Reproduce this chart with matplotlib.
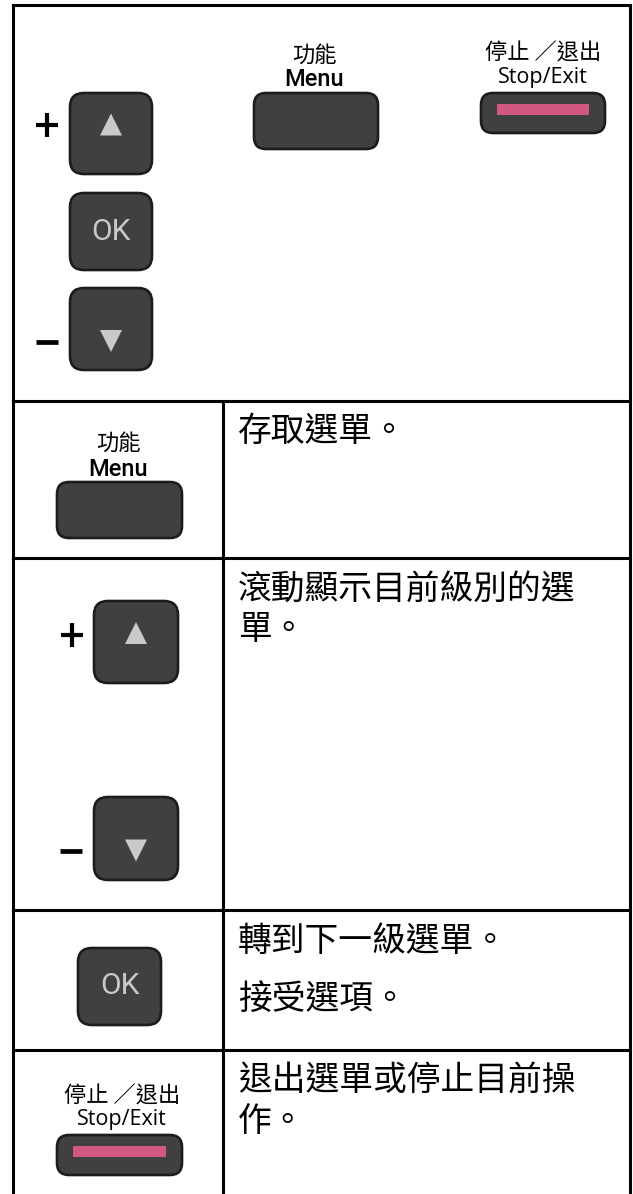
import matplotlib
matplotlib.use("Agg")
import matplotlib.pyplot as plt
from matplotlib.patches import FancyBboxPatch, Polygon

# Тексты таблицы (кнопки панели и их описание)
MENU_LABEL_ZH = "功能"
MENU_LABEL_EN = "Menu"
STOP_LABEL_ZH = "停止 ／退出"
STOP_LABEL_EN = "Stop/Exit"
OK_LABEL = "OK"
ROW_TEXTS = [
    ["存取選單。"],
    ["滾動顯示目前級別的選", "單。"],
    ["轉到下一級選單。", "接受選項。"],
    ["退出選單或停止目前操", "作。"],
]

CJK = ["Noto Sans CJK TC", "DejaVu Sans"]
BTN_FACE = "#404040"
BTN_EDGE = "#1c1c1c"
GLYPH = "#c9c9c9"
PINK = "#d05882"

W, H = 633, 1194
fig = plt.figure(figsize=(W / 100, H / 100), dpi=100)
ax = fig.add_axes([0, 0, 1, 1])
ax.set_xlim(0, W)
ax.set_ylim(H, 0)
ax.axis("off")


def button(x0, y0, x1, y1, r=13):
    ax.add_patch(FancyBboxPatch((x0, y0), x1 - x0, y1 - y0,
                                boxstyle=f"round,pad=0,rounding_size={r}",
                                fc=BTN_FACE, ec=BTN_EDGE, lw=1.9, zorder=2))


def arrow_button(x0, y0, x1, y1, up=True):
    button(x0, y0, x1, y1, r=14)
    cx = (x0 + x1) / 2
    cy = (y0 + y1) / 2 + (-9 if up else 12)
    h = 11
    if up:
        pts = [(cx - 11, cy + h), (cx + 11, cy + h), (cx, cy - h)]
    else:
        pts = [(cx - 11, cy - h), (cx + 11, cy - h), (cx, cy + h)]
    ax.add_patch(Polygon(pts, closed=True, fc=GLYPH, ec="none", zorder=3))


def ok_button(x0, y0, x1, y1):
    button(x0, y0, x1, y1, r=14)
    ax.text((x0 + x1) / 2, (y0 + y1) / 2, OK_LABEL, ha="center", va="center",
            family="Roboto", fontsize=21.5, color=GLYPH, zorder=3)


def menu_button(cx, y_zh, y_en, x0, y0, x1, y1):
    ax.text(cx, y_zh, MENU_LABEL_ZH, ha="center", va="center", family=CJK, fontsize=16)
    ax.text(cx, y_en, MENU_LABEL_EN, ha="center", va="center",
            family="Roboto", weight="medium", fontsize=17)
    button(x0, y0, x1, y1, r=12)


def stop_button(cx, y_zh, y_en, x0, y0, x1, y1):
    ax.text(cx, y_zh, STOP_LABEL_ZH, ha="center", va="center", family=CJK, fontsize=16)
    ax.text(cx, y_en, STOP_LABEL_EN, ha="center", va="center",
            family="Open Sans", fontsize=15.5)
    button(x0, y0, x1, y1, r=12)
    ax.add_patch(plt.Rectangle((x0 + 16, y0 + 11), (x1 - x0) - 32, 11,
                               fc=PINK, ec="none", zorder=3))


def plus(cx, cy, s=11):
    ax.plot([cx - s, cx + s], [cy, cy], color="black", lw=3, solid_capstyle="butt")
    ax.plot([cx, cx], [cy - 12, cy + 12], color="black", lw=3, solid_capstyle="butt")


def minus(cx, cy, s=11):
    ax.plot([cx - s, cx + s], [cy, cy], color="black", lw=3.4, solid_capstyle="butt")


# --- Рамка таблицы ---
LW = 2.2
L, R, TOP = 13, 630, 5
ax.plot([L, R], [TOP, TOP], color="black", lw=LW)
ax.plot([L, L], [TOP, H], color="black", lw=LW)
ax.plot([R, R], [TOP, H], color="black", lw=LW)
for y in [401, 558, 910, 1050]:
    ax.plot([L, R], [y, y], color="black", lw=LW)
ax.plot([223, 223], [401, H], color="black", lw=LW)

# --- Верхняя панель ---
plus(47, 125)
arrow_button(70, 93, 152, 174, up=True)
ok_button(70, 193, 152, 270)
arrow_button(70, 288, 152, 370, up=False)
minus(47, 342)
menu_button(314, 55, 80, 254, 93, 378, 149)
stop_button(543, 53, 77, 481, 93, 605, 133)

# --- Строки таблицы ---
menu_button(118, 443, 469, 57, 482, 182, 538)
plus(72, 635)
arrow_button(94, 601, 178, 683, up=True)
arrow_button(94, 797, 178, 880, up=False)
minus(71, 851)
ok_button(78, 948, 161, 1025)
stop_button(122, 1096, 1120, 57, 1135, 182, 1175)

# Описания справа
row_lines_y = [[431], [590, 630], [941, 999], [1080, 1122]]
for lines, ys in zip(ROW_TEXTS, row_lines_y):
    for txt, y in zip(lines, ys):
        ax.text(238, y, txt, ha="left", va="center", family=CJK, fontsize=24.3)

fig.savefig("out.png", dpi=100)
plt.close(fig)
